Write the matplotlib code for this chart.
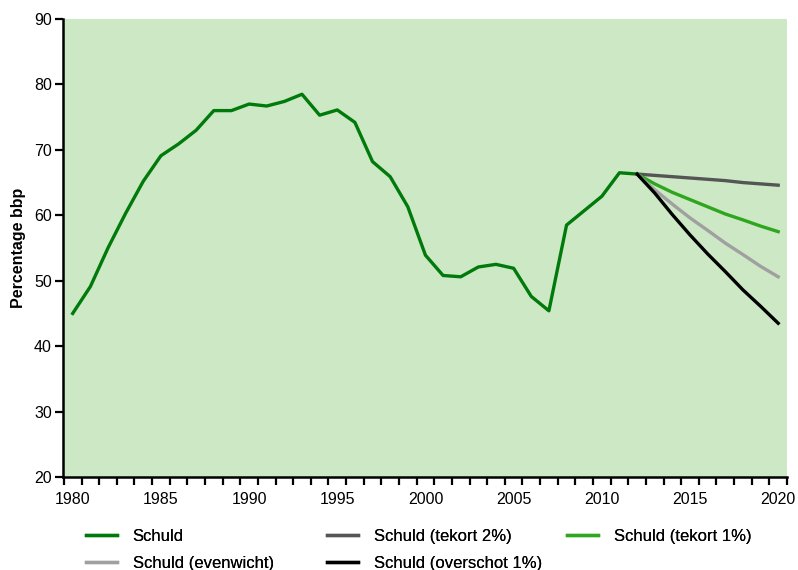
import numpy as np
import matplotlib
matplotlib.use("Agg")
import matplotlib.pyplot as plt

plt.rcParams['font.family'] = ['Liberation Sans', 'DejaVu Sans']

years = list(range(1980, 2013))
schuld = [45.0, 49.1, 55.0, 60.3, 65.2, 69.1, 70.9, 73.0, 76.0, 76.0,
          77.0, 76.7, 77.4, 78.5, 75.3, 76.1, 74.2, 68.2, 65.9, 61.3,
          53.9, 50.8, 50.6, 52.1, 52.5, 51.9, 47.6, 45.4, 58.5, 60.7,
          62.9, 66.5, 66.3]

proj_years = list(range(2012, 2021))
tekort2 = [66.3, 66.1, 65.9, 65.7, 65.5, 65.3, 65.0, 64.8, 64.6]
tekort1 = [66.3, 64.8, 63.5, 62.4, 61.3, 60.2, 59.3, 58.35, 57.5]
evenwicht = [66.3, 63.9, 61.7, 59.6, 57.7, 55.75, 54.0, 52.2, 50.6]
overschot = [66.3, 63.4, 60.1, 57.0, 54.1, 51.4, 48.6, 46.1, 43.5]

year_labels = [1980, 1985, 1990, 1995, 2000, 2005, 2010, 2015, 2020]
y_ticks = [20, 30, 40, 50, 60, 70, 80, 90]

W, H = 798, 570
fig = plt.figure(figsize=(W / 100, H / 100), dpi=100)
ax = fig.add_axes([63 / W, 1 - 477 / H, (787 - 63) / W, (477 - 19) / H])
ax.set_facecolor('#cce8c5')

lw = 2.4
l_s, = ax.plot(years, schuld, color='#007a0a', lw=lw, label='Schuld')
l_t2, = ax.plot(proj_years, tekort2, color='#555555', lw=lw, label='Schuld (tekort 2%)')
l_t1, = ax.plot(proj_years, tekort1, color='#2ea61e', lw=lw, label='Schuld (tekort 1%)')
l_ev, = ax.plot(proj_years, evenwicht, color='#a0a0a0', lw=lw, label='Schuld (evenwicht)')
l_ov, = ax.plot(proj_years, overschot, color='#000000', lw=lw, label='Schuld (overschot 1%)')

ax.set_xlim(1979.45, 2020.5)
ax.set_ylim(20, 90)

for s in ['top', 'right']:
    ax.spines[s].set_visible(False)
for s in ['left', 'bottom']:
    ax.spines[s].set_linewidth(1.8)
    ax.spines[s].set_color('black')

ax.set_xticks(np.arange(1979.5, 2020.6, 1.0))
ax.set_xticklabels([])
ax.tick_params(axis='x', which='major', length=6, width=1.6, direction='out')
ax.set_xticks(year_labels, minor=True)
ax.set_xticklabels([str(y) for y in year_labels], minor=True, fontsize=11.5)
ax.tick_params(axis='x', which='minor', length=0, pad=11)

ax.set_yticks(y_ticks)
ax.set_yticklabels([str(v) for v in y_ticks], fontsize=11.5)
ax.tick_params(axis='y', length=6, width=1.6, direction='out', pad=2)

ax.set_ylabel('Percentage bbp', fontsize=11.5, fontweight='bold', labelpad=6)

columns = [([l_s, l_ev], 86), ([l_t2, l_ov], 327), ([l_t1], 567)]
for hs, xpx in columns:
    leg = fig.legend(hs, [h.get_label() for h in hs], loc='upper left',
                     bbox_to_anchor=(xpx / W, 1 - 529 / H),
                     frameon=False, fontsize=12, handlelength=1.85,
                     handletextpad=0.95, labelspacing=0.72, borderpad=0,
                     borderaxespad=0)
    fig.add_artist(leg)

fig.savefig('out.png', dpi=100)
